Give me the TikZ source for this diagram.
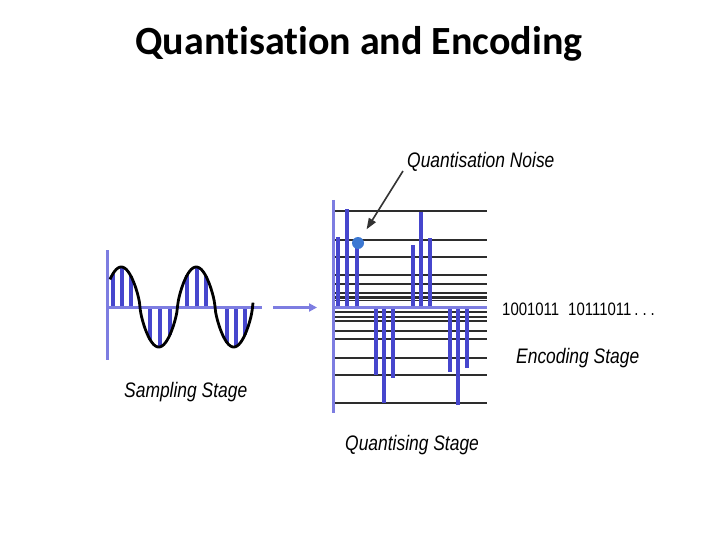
\documentclass[tikz,border=0pt]{standalone}
\usepackage{fontspec}
\newfontfamily\titlefont[Ligatures=NoCommon]{Carlito}
\newfontfamily\narrowfont[FakeStretch=0.83]{Liberation Sans}
\usetikzlibrary{arrows.meta}
\definecolor{axiscol}{RGB}{125,125,225}
\definecolor{barcol}{RGB}{70,70,205}
\definecolor{dotcol}{RGB}{60,120,210}
\definecolor{levelcol}{RGB}{45,45,45}

\begin{document}
\begin{tikzpicture}[x=1pt, y=-1pt,
    declare function={wave(\t)=307-40*sign(sin(4.8*(\t-102.5)))*pow(abs(sin(4.8*(\t-102.5)))+0.0001,0.7);},
    stagetext/.style={anchor=base west, inner sep=0pt, font=\narrowfont\itshape\fontsize{21}{24}\selectfont},
    axisline/.style={draw=axiscol, line width=3pt},
    sampbar/.style={draw=barcol, line width=3.5pt},
    qbar/.style={draw=barcol, line width=3.5pt},
    qlevel/.style={draw=levelcol, line width=1.2pt},
    qlevelthick/.style={draw=levelcol, line width=2.4pt},
    sinecurve/.style={draw=black, line width=2.8pt},
    stagearrow/.style={draw=axiscol, line width=3pt, -{Triangle[length=8pt,width=8pt]}},
    noisearrow/.style={draw=black!80, line width=1.6pt, -{Triangle[length=11pt,width=8pt]}, shorten >=10pt},
    noisedot/.style={circle, fill=dotcol, minimum size=12pt, inner sep=0pt}]
    \useasboundingbox (0,0) rectangle (720,540);

    \node[anchor=base, inner sep=0pt, font=\titlefont\bfseries\fontsize{40}{48}\selectfont] (title) at (359,55) {Quantisation and Encoding};

    % sampling stage
    \foreach \bx in {113,122,131,150,160,170,187,197,206,227,236,245}
        \draw[sampbar] (\bx,307) -- (\bx,{wave(\bx)});
    \draw[axisline] (107,250) -- (107,360);
    \draw[axisline] (107,307) -- (262,307);
    \draw[sinecurve] plot[domain=110:253, samples=200] (\x,{wave(\x)});
    \node[stagetext] (samplbl) at (124,397) {Sampling Stage};

    \coordinate (sampout) at (273,307.5);
    \coordinate (quantin) at (317,307.5);
    \draw[stagearrow] (sampout) -- (quantin);

    % quantising stage
    \foreach \ly in {211,257,275,284,293,300.5,312,321,331,339,358,403}
        \draw[qlevel] (333,\ly) -- (487,\ly);
    \foreach \ly in {240,297.5,317,375}
        \draw[qlevelthick] (333,\ly) -- (487,\ly);
    \foreach \bx/\by in {338/237,347/209,357/243,413/245,421/212,430/238,376/375,384/403,393/378,450/372,458/405,467/368}
        \draw[qbar] (\bx,307) -- (\bx,\by);
    \draw[axisline] (333,200) -- (333,413);
    \draw[axisline] (333,307) -- (487,307);
    \node[noisedot] (dot) at (358,243) {};
    \node[stagetext] (noiselbl) at (407,168) {Quantisation Noise};
    \coordinate (noisetail) at (403,171);
    \draw[noisearrow] (noisetail) -- (dot);
    \node[stagetext] (quantlbl) at (345,450) {Quantising Stage};

    % encoding stage
    \node[anchor=base west, inner sep=0pt, font=\narrowfont\fontsize{18}{21}\selectfont] (codes) at (502,315) {1001011\hspace{9pt}10111011\hspace{3pt}.\hspace{4pt}.\hspace{4pt}.};
    \node[stagetext] (enclbl) at (516,363) {Encoding Stage};
\end{tikzpicture}
\end{document}
